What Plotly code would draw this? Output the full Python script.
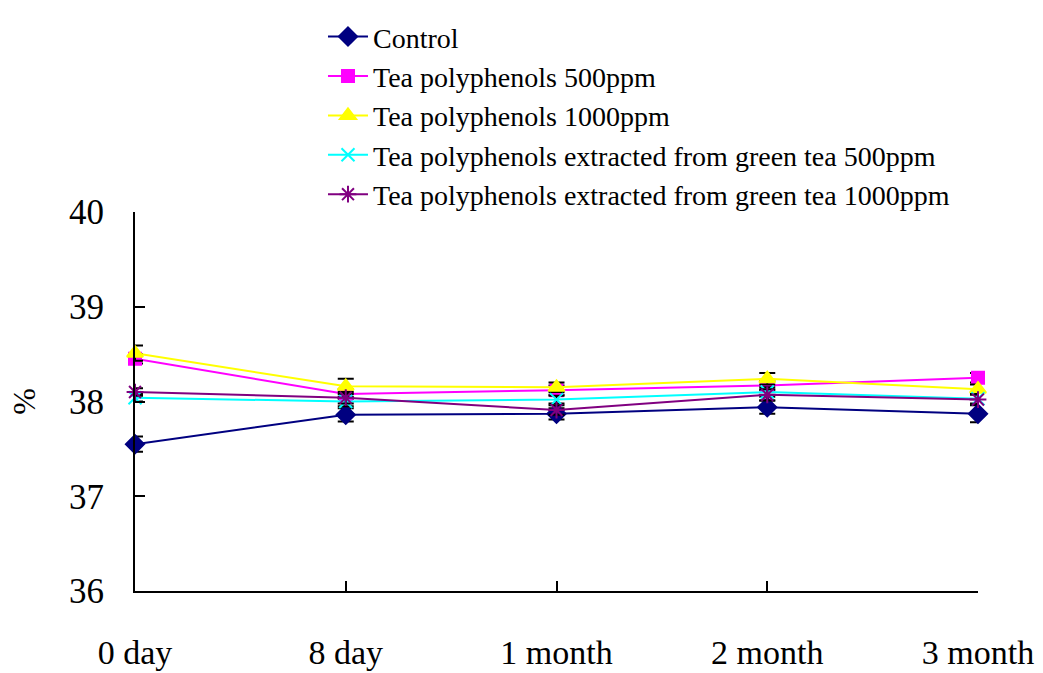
import plotly.graph_objects as go

# Storage time points
categories = ["0 day", "8 day", "1 month", "2 month", "3 month"]

# Mean values (%) per treatment
control = [37.55, 37.86, 37.87, 37.94, 37.87]
tea_500 = [38.45, 38.08, 38.12, 38.17, 38.25]
tea_1000 = [38.51, 38.16, 38.15, 38.24, 38.13]
green_500 = [38.04, 38.00, 38.02, 38.10, 38.03]
green_1000 = [38.10, 38.04, 37.91, 38.07, 38.02]

# Standard errors
control_err = [0.08, 0.07, 0.06, 0.07, 0.09]
tea_500_err = [0.05, 0.05, 0.05, 0.05, 0.05]
tea_1000_err = [0.08, 0.08, 0.05, 0.06, 0.05]
green_500_err = [0.04, 0.05, 0.04, 0.05, 0.05]
green_1000_err = [0.04, 0.06, 0.05, 0.06, 0.05]

y_ticks = [36, 37, 38, 39, 40]

series = [
    ("Control", control, control_err, "#000080", "diamond", 14),
    ("Tea polyphenols 500ppm", tea_500, tea_500_err, "#FF00FF", "square", 12),
    ("Tea polyphenols 1000ppm", tea_1000, tea_1000_err, "#FFFF00", "triangle-up", 14),
    ("Tea polyphenols extracted from green tea 500ppm", green_500, green_500_err,
     "#00FFFF", "x-thin-open", 13),
    ("Tea polyphenols extracted from green tea 1000ppm", green_1000, green_1000_err,
     "#800080", "asterisk-open", 14),
]

x_idx = list(range(len(categories)))

fig = go.Figure()
for name, vals, err, color, symbol, size in series:
    fig.add_trace(go.Scatter(
        x=x_idx,
        y=vals,
        name=name,
        mode="lines+markers",
        line=dict(color=color, width=2),
        marker=dict(symbol=symbol, size=size, color=color,
                    line=dict(color=color, width=2)),
        error_y=dict(type="data", array=err, visible=True,
                     color="black", thickness=2, width=8),
        cliponaxis=False,
    ))

font_family = "Liberation Serif"

fig.update_layout(
    width=1043,
    height=673,
    margin=dict(l=135, r=65, t=210, b=82),
    paper_bgcolor="white",
    plot_bgcolor="white",
    font=dict(family=font_family, color="black"),
    showlegend=True,
    legend=dict(
        x=0.223, y=1.528, xanchor="left", yanchor="top",
        font=dict(family=font_family, size=28, color="black"),
        bgcolor="rgba(0,0,0,0)",
        tracegroupgap=0,
        itemwidth=40,
    ),
    xaxis=dict(
        range=[0, len(categories) - 1],
        tickmode="array",
        tickvals=x_idx,
        ticktext=categories,
        showgrid=False,
        zeroline=False,
        showline=True,
        linecolor="black",
        linewidth=2,
        ticks="inside",
        ticklen=10,
        tickwidth=1.5,
        tickcolor="black",
        tickfont=dict(family=font_family, size=34, color="black"),
        ticklabelstandoff=30,
        automargin=False,
    ),
    yaxis=dict(
        range=[36, 40],
        tickmode="array",
        tickvals=y_ticks,
        showgrid=False,
        zeroline=False,
        showline=True,
        linecolor="black",
        linewidth=2,
        ticks="inside",
        ticklen=10,
        tickwidth=1.5,
        tickcolor="black",
        tickfont=dict(family=font_family, size=35, color="black"),
        ticklabelstandoff=22,
        automargin=False,
        title=dict(text="%", font=dict(family=font_family, size=32, color="black"),
                   standoff=24),
    ),
)

fig.write_html("out.html")
